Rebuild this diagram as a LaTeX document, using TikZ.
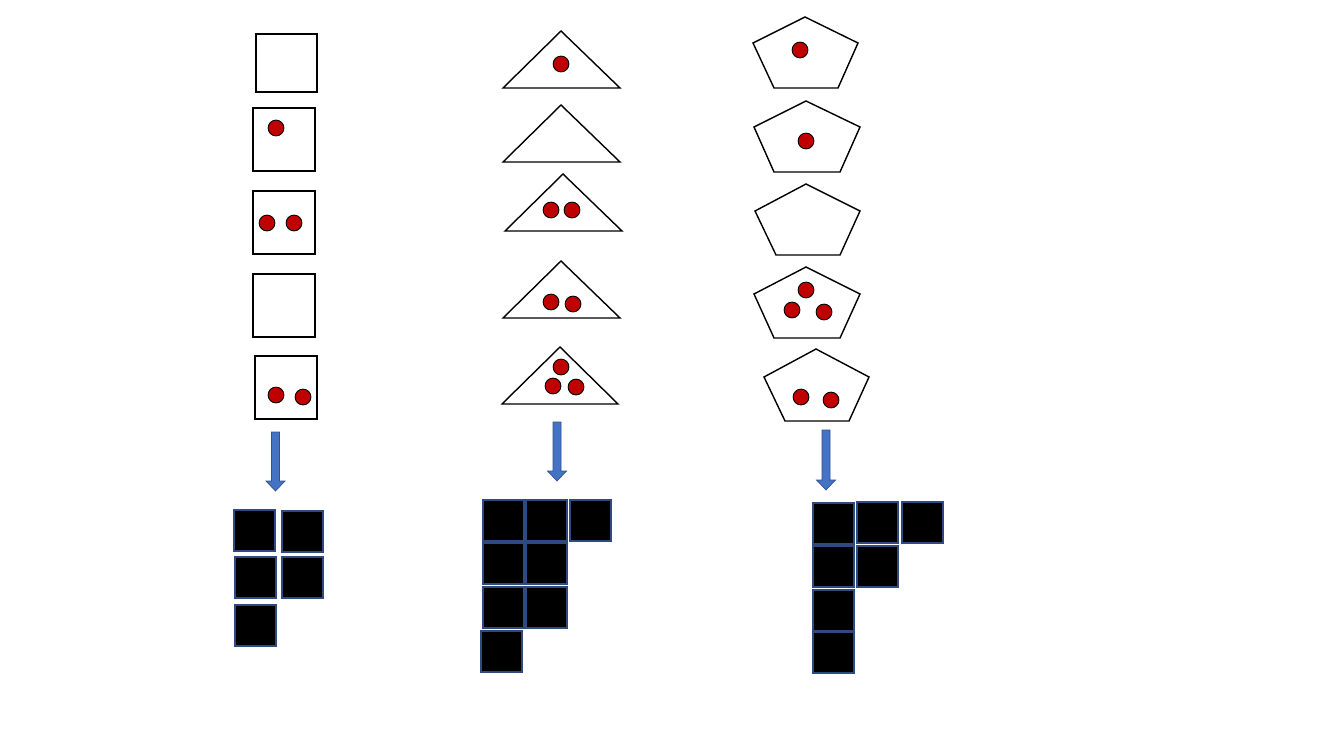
\documentclass[tikz,border=0pt]{standalone}
\definecolor{dotred}{HTML}{C00000}
\definecolor{arrfill}{HTML}{4472C4}
\definecolor{arredge}{HTML}{2F528F}
\definecolor{blkedge}{HTML}{2F4A80}
% block arrow pointing down: centre x, top y, tip y
\newcommand\downarr[3]{\draw[barrow] (#1-4,#2) -- (#1+4,#2) -- (#1+4,#3-10) -- (#1+9.5,#3-10) -- (#1,#3) -- (#1-9.5,#3-10) -- (#1-4,#3-10) -- cycle;}
\begin{document}
\begin{tikzpicture}[x=0.02cm,y=-0.02cm,line join=miter,
	shp/.style={draw=black,line width=0.8pt,fill=white},
	dot/.style={draw=black,line width=0.5pt,fill=dotred},
	blk/.style={draw=blkedge,line width=0.8pt,fill=black},
	barrow/.style={draw=arredge,line width=0.4pt,fill=arrfill}]
	\useasboundingbox (0,0) rectangle (1334,750);
	% squares
	\draw[shp] (256,34) rectangle (317,92);
	\draw[shp] (253,108) rectangle (315,171);
	\draw[shp] (253,191) rectangle (315,254);
	\draw[shp] (253,274) rectangle (315,337);
	\draw[shp] (255,356) rectangle (317,419);
	\draw[dot] (276,128) circle(4.5pt) (267,223) circle(4.5pt) (294,223) circle(4.5pt) (276,395) circle(4.5pt) (303,397) circle(4.5pt);
	% triangles
	\draw[shp] (503,88) -- (561,31) -- (620,88) -- cycle;
	\draw[shp] (503,162) -- (561,105) -- (620,162) -- cycle;
	\draw[shp] (505,231) -- (563,174) -- (622,231) -- cycle;
	\draw[shp] (503,318) -- (561,261) -- (620,318) -- cycle;
	\draw[shp] (502,404) -- (560,347) -- (618,404) -- cycle;
	\draw[dot] (561,64) circle(4.5pt) (551,210) circle(4.5pt) (572,210) circle(4.5pt) (551,302) circle(4.5pt) (573,304) circle(4.5pt) (561,367) circle(4.5pt) (553,386) circle(4.5pt) (576,387) circle(4.5pt);
	% pentagons
	\draw[shp] (805,17) -- (858,43) -- (838,88) -- (774,88) -- (753,43) -- cycle;
	\draw[shp] (806,101) -- (860,127) -- (840,172) -- (774,172) -- (754,127) -- cycle;
	\draw[shp] (806,184) -- (860,211) -- (840,255) -- (776,255) -- (755,211) -- cycle;
	\draw[shp] (806,267) -- (860,294) -- (840,338) -- (774,338) -- (754,294) -- cycle;
	\draw[shp] (816,349) -- (869,377) -- (849,421) -- (785,421) -- (764,377) -- cycle;
	\draw[dot] (800,50) circle(4.5pt) (806,141) circle(4.5pt) (806,290) circle(4.5pt) (792,310) circle(4.5pt) (824,312) circle(4.5pt) (801,397) circle(4.5pt) (831,400) circle(4.5pt);
	% arrows
	\downarr{275.5}{432}{491}
	\downarr{557}{422}{481}
	\downarr{826}{430}{490}
	% blocks
	\foreach \x/\y in {234/510,282/511,235/557,282/557,235/605,
		483/500,526/500,570/500,483/543,526/543,483/587,526/587,481/631,
		813/503,857/502,902/502,813/546,857/546,813/590,813/632}
		\draw[blk] (\x,\y) rectangle ++(41,41);
\end{tikzpicture}
\end{document}
